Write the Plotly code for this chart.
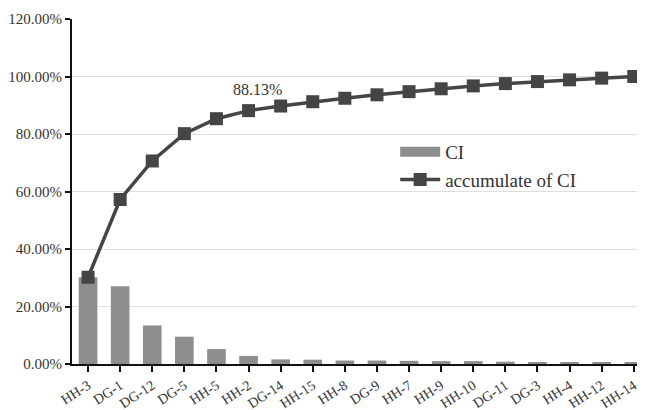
import plotly.graph_objects as go

categories = ["HH-3", "DG-1", "DG-12", "DG-5", "HH-5", "HH-2", "DG-14", "HH-15", "HH-8",
              "DG-9", "HH-7", "HH-9", "HH-10", "DG-11", "DG-3", "HH-4", "HH-12", "HH-14"]
ci_values = [30.17, 27.05, 13.40, 9.50, 5.20, 2.81, 1.60, 1.50, 1.20,
             1.20, 1.10, 1.00, 1.00, 0.80, 0.70, 0.60, 0.60, 0.57]
accumulate_values = [30.17, 57.22, 70.62, 80.12, 85.32, 88.13, 89.73, 91.23, 92.43,
                     93.63, 94.73, 95.73, 96.73, 97.53, 98.23, 98.83, 99.43, 100.00]
label_category = "HH-2"
label_text = "88.13%"
y_ticks = [0, 20, 40, 60, 80, 100, 120]

serif = "Liberation Serif"
bar_color = "#8e8e8e"
line_color = "#454545"

fig = go.Figure()
fig.add_trace(go.Bar(
    x=categories, y=ci_values, name="CI", showlegend=False,
    marker=dict(color=bar_color, line=dict(width=0)),
    width=0.58,
))
# legend-only entry giving the CI key its wide rectangular swatch
fig.add_trace(go.Scatter(
    x=[None], y=[None], name="CI", mode="lines",
    line=dict(color=bar_color, width=15), hoverinfo="skip",
))
fig.add_trace(go.Scatter(
    x=categories, y=accumulate_values, name="accumulate of CI",
    mode="lines+markers",
    line=dict(color=line_color, width=3.5),
    marker=dict(symbol="square", size=13, color=line_color),
))

fig.add_annotation(
    x=label_category, y=accumulate_values[categories.index(label_category)],
    text=label_text, showarrow=False, xshift=9, yshift=21,
    font=dict(family=serif, size=16, color="#333333"),
)

# page body has an 8px margin, so the plot area is offset to compensate
fig.update_layout(
    width=645, height=410,
    margin=dict(l=64, r=8, t=11, b=54, autoexpand=False),
    paper_bgcolor="white", plot_bgcolor="white",
    font=dict(family=serif, color="#333333"),
    showlegend=True,
    legend=dict(x=0.564, y=0.67, xanchor="left", yanchor="top",
                bgcolor="rgba(0,0,0,0)", font=dict(family=serif, size=19, color="#333333"),
                itemwidth=40, tracegroupgap=0),
    bargap=0.42,
)
fig.update_xaxes(
    range=[-0.5, 17.35], automargin=False,
    showline=True, linecolor="#111111", linewidth=2,
    ticks="outside", ticklen=6, tickwidth=1.5, tickcolor="#111111",
    tickangle=-33, tickfont=dict(family=serif, size=14, color="#333333"),
    showgrid=False,
)
fig.update_yaxes(
    range=[0, 120], tickvals=y_ticks, automargin=False,
    ticktext=[f"{v:.2f}%" for v in y_ticks],
    showline=True, linecolor="#111111", linewidth=2,
    ticks="outside", ticklen=5, tickwidth=1.5, tickcolor="#111111",
    tickfont=dict(family=serif, size=15, color="#333333"),
    showgrid=True, gridcolor="#dedede", gridwidth=1, zeroline=False,
)

fig.write_html("out.html")
